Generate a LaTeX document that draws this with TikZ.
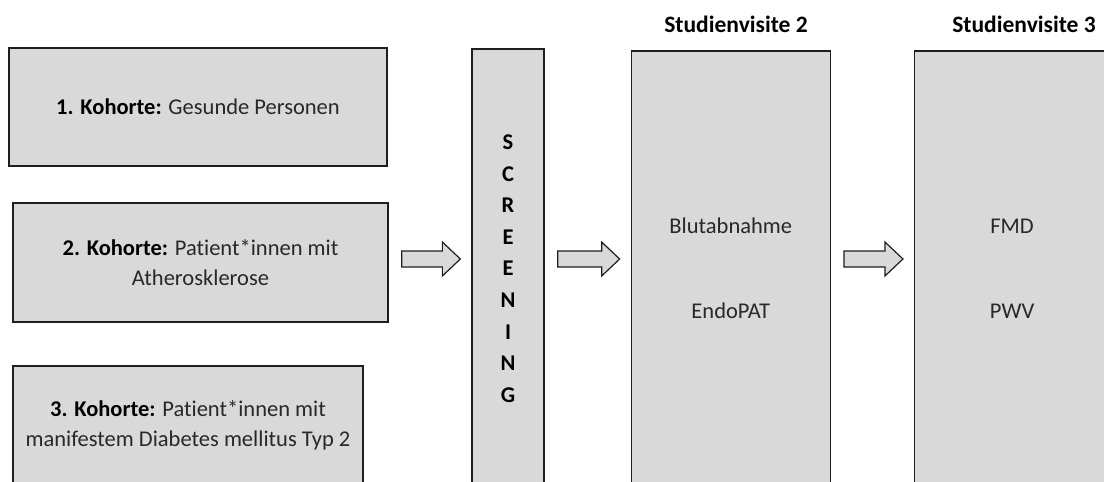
\documentclass[tikz,border=0pt]{standalone}
\usepackage{fontspec}
\setmainfont{Carlito}[Ligatures=NoCommon]
\usetikzlibrary{positioning,calc}
\definecolor{boxgray}{RGB}{217,217,217}
\definecolor{linegray}{RGB}{30,30,30}
\definecolor{textgray}{RGB}{40,40,40}
\newcommand{\bodyfont}{\fontsize{22.5}{30}\selectfont}
\tikzset{
  kohorte/.style={rectangle, draw=linegray, line width=1.3pt, fill=boxgray,
                  inner sep=0pt, align=center, font=\bodyfont, text=textgray},
  visite/.style={kohorte, minimum width=199pt, minimum height=435pt},
  heading/.style={font=\fontsize{23.5}{30}\selectfont\bfseries, inner sep=0pt, anchor=base},
  bigarrow/.style={draw=linegray, line width=1.2pt, fill=boxgray, line join=miter},
}
\newcommand{\blockarrow}[2]{%
  \draw[bigarrow] let \p1=(#1.east), \p2=(#2.west), \p3=(arrowrow) in
    (\x1+13pt,\y3+8pt) -- (\x2-29pt,\y3+8pt) -- (\x2-29pt,\y3+17pt) -- (\x2-11pt,\y3)
    -- (\x2-29pt,\y3-17pt) -- (\x2-29pt,\y3-8pt) -- (\x1+13pt,\y3-8pt) -- cycle;}

\begin{document}
\begin{tikzpicture}[x=1pt, y=-1pt]
\clip (0,0) rectangle (1104,482);
\node[kohorte, minimum width=378pt, minimum height=118pt] (k1) at (198,107)
  {\textcolor{black}{\textbf{1. Kohorte:}} Gesunde Personen};
\node[kohorte, minimum width=375pt, minimum height=119pt] (k2) at (200.5,262.5)
  {\textcolor{black}{\textbf{2. Kohorte:}} Patient*innen mit\\Atherosklerose};
\node[kohorte, minimum width=350pt, minimum height=119pt] (k3) at (188,425.5)
  {\textcolor{black}{\textbf{3. Kohorte:}} Patient*innen mit\\manifestem Diabetes mellitus Typ 2};
\node[kohorte, minimum width=72pt, minimum height=439pt, text=black,
      font=\fontsize{22.5}{31.6}\selectfont\bfseries] (screen) at (508,268.5)
  {S\\C\\R\\E\\E\\N\\I\\N\\G};
\node[visite, right=86pt of screen] (v2) {Blutabnahme\\[55pt]EndoPAT};
\node[visite, minimum width=195pt, right=83pt of v2] (v3) {FMD\\[55pt]PWV};
\node[heading] (h2) at (736,32) {Studienvisite 2};
\node[heading] (h3) at (1024,32) {Studienvisite 3};
\coordinate (arrowrow) at (0,259);
\foreach \a/\b in {k2/screen, screen/v2, v2/v3}
  \blockarrow{\a}{\b};
\end{tikzpicture}
\end{document}
